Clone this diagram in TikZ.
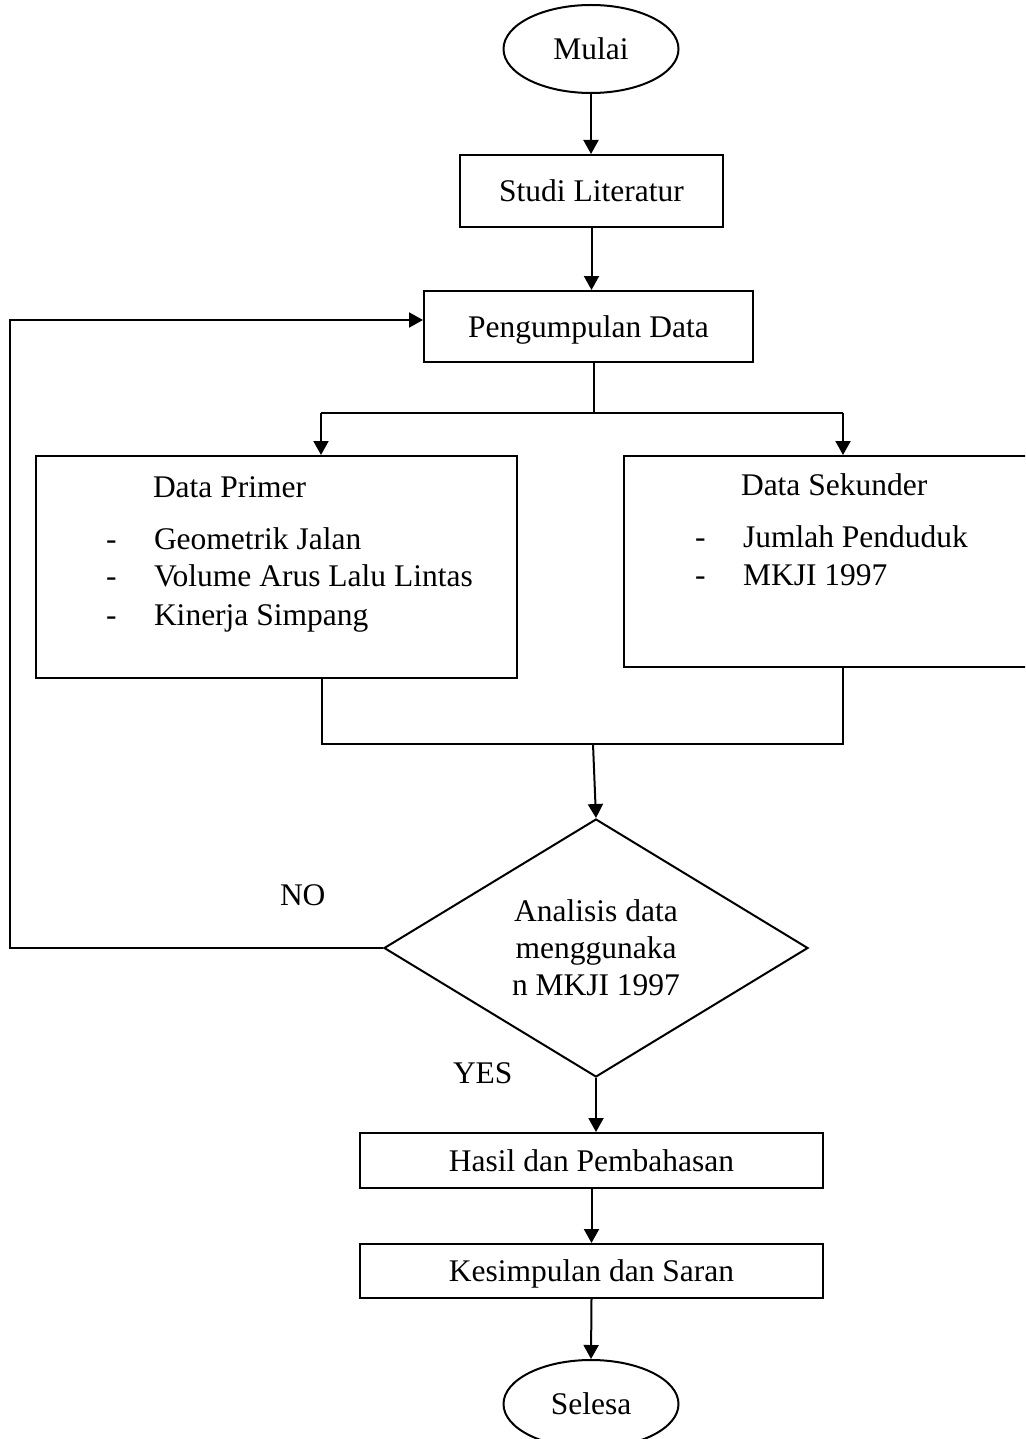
\documentclass[tikz,border=0pt]{standalone}
\usepackage{fontspec}
\setmainfont{Liberation Serif}
\usetikzlibrary{arrows.meta,shapes.geometric,calc}
\begin{document}
\begin{tikzpicture}[x=1pt,y=-1pt,
  line width=2pt,
  every node/.style={font=\fontsize{31.5}{37}\selectfont},
  boxnode/.style={draw, rectangle, inner sep=0pt, text height=21pt, text depth=0pt},
  termnode/.style={draw, ellipse, inner sep=0pt, minimum width=175pt, minimum height=88pt, text height=21pt, text depth=0pt},
  decnode/.style={draw, diamond, shape aspect=1.64, inner sep=0pt, minimum width=424pt, minimum height=258pt, align=center},
  txt/.style={anchor=base west, inner sep=0pt},
  arr/.style={-{Triangle[length=14pt,width=15pt]}}
]
\useasboundingbox (0,0) rectangle (1025,1439);
\clip (0,0) rectangle (1025,1439);

% nodes
\node[termnode] (mulai) at (591,49) {Mulai};
\node[boxnode, minimum width=263pt, minimum height=72pt] (studi) at (591.5,191) {Studi Literatur};
\node[boxnode, minimum width=329pt, minimum height=71pt] (kumpul) at (588.5,326.5) {Pengumpulan Data};
\node[boxnode, minimum width=481pt, minimum height=222pt] (primer) at (276.5,567) {};
\node[boxnode, minimum width=406pt, minimum height=211pt] (sek) at (827,561.5) {};

\node[txt] (pt) at (152,497) {Data Primer};
\node[txt] (pd1) at (105,549) {-};
\node[txt] (pi1) at (153,549) {Geometrik Jalan};
\node[txt] (pd2) at (105,586) {-};
\node[txt] (pi2) at (153,586) {Volume Arus Lalu Lintas};
\node[txt] (pd3) at (105,625) {-};
\node[txt] (pi3) at (153,625) {Kinerja Simpang};

\node[txt] (st) at (740,495) {Data Sekunder};
\node[txt] (sd1) at (694,547) {-};
\node[txt] (si1) at (742,547) {Jumlah Penduduk};
\node[txt] (sd2) at (694,585) {-};
\node[txt] (si2) at (742,585) {MKJI 1997};

\node[decnode] (dia) at (596,948) {Analisis data\\menggunaka\\n MKJI 1997};
\node[boxnode, minimum width=463pt, minimum height=55pt] (hasil) at (591.5,1160.5) {Hasil dan Pembahasan};
\node[boxnode, minimum width=463pt, minimum height=54pt] (kesimp) at (591.5,1271) {Kesimpulan dan Saran};
\node[termnode] (selesa) at (591,1404) {Selesa};

\node[txt] (no) at (279,905) {NO};
\node[txt] (yes) at (452,1083) {YES};

% connectors
\draw[arr] (mulai.south) -- (mulai.south |- studi.north);
\draw[arr] (studi.south) -- (studi.south |- kumpul.north);

\coordinate (s1) at (594,413);
\coordinate (cL) at (321,413);
\coordinate (cR) at (843,413);
\draw (kumpul.south -| s1) -- (s1);
\draw (cL) -- (cR);
\draw[arr] (cL) -- (cL |- primer.north);
\draw[arr] (cR) -- (cR |- sek.north);

\coordinate (jL) at (322,744);
\coordinate (jR) at (843,744);
\coordinate (jM) at (593,744);
\draw (jL |- primer.south) -- (jL) -- (jR) -- (jR |- sek.south);
\draw[arr] (jM) -- (dia.north);

\coordinate (fb) at (10,320);
\draw[arr] (dia.west) -- (dia.west -| fb) -- (fb) -- (fb -| kumpul.west);

\draw[arr] (dia.south) -- (dia.south |- hasil.north);
\draw[arr] (hasil.south) -- (kesimp.north);
\draw[arr] (kesimp.south) -- (selesa.north);
\end{tikzpicture}
\end{document}
